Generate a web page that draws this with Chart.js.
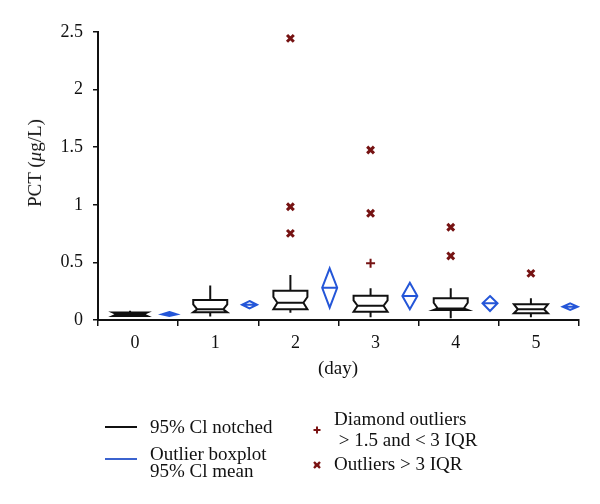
<!DOCTYPE html>
<html>
<head>
<meta charset="utf-8">
<script src="https://cdn.jsdelivr.net/npm/chart.js@4"></script>
<style>
  body { margin: 0; background: #fff; }
  #wrap { position: relative; width: 600px; height: 504px; font-family: "Liberation Serif", "DejaVu Serif", serif; color: #111; }
  #wrap canvas { position: absolute; left: 0; top: 0; }
  .txt { position: absolute; font-size: 19px; white-space: pre; }
  .swatch { position: absolute; height: 2px; width: 32px; }
</style>
</head>
<body>
<div id="wrap">
  <canvas id="pct" width="600" height="504"></canvas>
  <div class="txt" style="left:35px; top:163px; line-height:22px; transform:translate(-50%,-50%) rotate(-90deg);">PCT (<i>μ</i>g/L)</div>
  <div class="txt" style="left:238px; top:357px; width:200px; text-align:center; line-height:22px;">(day)</div>

  <div class="swatch" style="left:105px; top:426px; background:#111;"></div>
  <div class="txt" style="left:150px; top:416px; line-height:21px;">95% Cl notched</div>
  <div class="swatch" style="left:105px; top:458px; background:#3b63cf;"></div>
  <div class="txt" style="left:150px; top:445px; line-height:17px;">Outlier boxplot
95% Cl mean</div>

  <svg style="position:absolute; left:311px; top:424px;" width="12" height="12">
    <path d="M6 2.5 V9.5 M2.5 6 H9.5" stroke="#7a1212" stroke-width="2"/>
  </svg>
  <svg style="position:absolute; left:311px; top:459px;" width="12" height="12">
    <path d="M3 3 L9 9 M9 3 L3 9 M3.5 6 H8.5" stroke="#7a1212" stroke-width="2.4"/>
  </svg>
  <div class="txt" style="left:334px; top:410px; line-height:17px;">Diamond outliers</div>
  <div class="txt" style="left:334px; top:431px; line-height:17px;"> &gt; 1.5 and &lt; 3 IQR</div>
  <div class="txt" style="left:334px; top:455px; line-height:17px;">Outliers &gt; 3 IQR</div>
</div>

<script>
// categories (day) and y ticks
const days = ["0", "1", "2", "3", "4", "5"];
const yTicks = [0, 0.5, 1, 1.5, 2, 2.5];

// notched boxplot, 95% CI of median
const boxQ1   = [0.035, 0.067, 0.093, 0.072, 0.087, 0.058];
const boxMed  = [0.050, 0.093, 0.150, 0.124, 0.100, 0.093];
const boxQ3   = [0.065, 0.174, 0.254, 0.211, 0.188, 0.136];
const notchLo = [0.035, 0.067, 0.093, 0.072, 0.087, 0.058];
const notchHi = [0.065, 0.136, 0.200, 0.170, 0.150, 0.136];
const whiskLo = [0.035, 0.030, 0.063, 0.023, 0.016, 0.023];
const whiskHi = [0.080, 0.300, 0.390, 0.275, 0.275, 0.188];

// 95% CI of mean (diamonds)
const meanVal = [0.050, 0.133, 0.280, 0.208, 0.145, 0.116];
const meanLo  = [0.035, 0.100, 0.107, 0.093, 0.078, 0.087];
const meanHi  = [0.070, 0.165, 0.449, 0.324, 0.208, 0.145];

// outliers
const mildDay = [3];
const mildVal = [0.492];
const extDay = [2, 2, 2, 3, 3, 4, 4, 5];
const extVal = [2.445, 0.983, 0.752, 1.476, 0.926, 0.805, 0.556, 0.405];

const BOX_SHIFT = -0.1;   // box sits left of the category centre
const MEAN_SHIFT = 0.39;  // diamond sits right
const BOX_HALF = 17, NOTCH = 4, DIAM_HALF = 7.5;
const OUT_RED = "#761313";

const boxPlugin = {
  id: "boxes",
  afterDatasetsDraw(chart) {
    const ctx = chart.ctx;
    const xs = chart.scales.xv, ys = chart.scales.y;
    ctx.save();
    ctx.lineWidth = 2;
    ctx.lineJoin = "miter";
    days.forEach((d, i) => {
      // notched box
      const cx = xs.getPixelForValue(i + BOX_SHIFT);
      const l = cx - BOX_HALF, r = cx + BOX_HALF;
      const q1 = ys.getPixelForValue(boxQ1[i]), q3 = ys.getPixelForValue(boxQ3[i]);
      const md = ys.getPixelForValue(boxMed[i]);
      const nl = ys.getPixelForValue(notchLo[i]), nh = ys.getPixelForValue(notchHi[i]);
      ctx.strokeStyle = "#111";
      ctx.beginPath();
      ctx.moveTo(l, q3); ctx.lineTo(r, q3); ctx.lineTo(r, nh);
      ctx.lineTo(r - NOTCH, md); ctx.lineTo(r, nl); ctx.lineTo(r, q1);
      ctx.lineTo(l, q1); ctx.lineTo(l, nl); ctx.lineTo(l + NOTCH, md);
      ctx.lineTo(l, nh); ctx.closePath();
      ctx.moveTo(l + NOTCH, md); ctx.lineTo(r - NOTCH, md);
      ctx.moveTo(cx, q3); ctx.lineTo(cx, ys.getPixelForValue(whiskHi[i]));
      ctx.moveTo(cx, q1); ctx.lineTo(cx, ys.getPixelForValue(whiskLo[i]));
      ctx.stroke();

      // mean diamond
      const mx = xs.getPixelForValue(i + MEAN_SHIFT);
      const my = ys.getPixelForValue(meanVal[i]);
      ctx.strokeStyle = "#2456d8";
      ctx.beginPath();
      ctx.moveTo(mx, ys.getPixelForValue(meanHi[i]));
      ctx.lineTo(mx + DIAM_HALF, my);
      ctx.lineTo(mx, ys.getPixelForValue(meanLo[i]));
      ctx.lineTo(mx - DIAM_HALF, my);
      ctx.closePath();
      ctx.moveTo(mx - DIAM_HALF, my); ctx.lineTo(mx + DIAM_HALF, my);
      ctx.stroke();
    });
    ctx.restore();
  }
};

new Chart(document.getElementById("pct"), {
  type: "scatter",
  data: {
    datasets: [{
      label: "Diamond outliers > 1.5 and < 3 IQR",
      data: mildDay.map((d, k) => ({x: d + BOX_SHIFT, y: mildVal[k]})),
      xAxisID: "xv",
      pointStyle: "cross",
      pointRadius: 4.5,
      borderWidth: 2,
      borderColor: OUT_RED
    }, {
      label: "Outliers > 3 IQR",
      data: extDay.map((d, k) => ({x: d + BOX_SHIFT, y: extVal[k]})),
      xAxisID: "xv",
      pointStyle: "crossRot",
      pointRadius: 4.8,
      borderWidth: 3,
      borderColor: OUT_RED
    }]
  },
  plugins: [boxPlugin],
  options: {
    responsive: false,
    animation: false,
    layout: {padding: {top: 32, right: 21, left: 0, bottom: 0}},
    plugins: {legend: {display: false}, tooltip: {enabled: false}},
    scales: {
      x: {
        type: "category",
        labels: days,
        offset: true,
        position: "bottom",
        grid: {offset: true, drawOnChartArea: false, drawTicks: true, tickLength: 6, color: "#111", lineWidth: 1.5},
        border: {display: true, color: "#111", width: 2},
        ticks: {color: "#111", padding: 6, labelOffset: -3, font: {family: "Liberation Serif", size: 18}},
        afterFit: s => { s.height = 184; }
      },
      xv: {type: "linear", display: false, min: -0.5, max: 5.5},
      y: {
        type: "linear",
        min: yTicks[0],
        max: yTicks[yTicks.length - 1],
        afterBuildTicks: s => { s.ticks = yTicks.map(v => ({value: v})); },
        grid: {drawOnChartArea: false, drawTicks: true, tickLength: 5, color: "#111", lineWidth: 1.5},
        border: {display: true, color: "#111", width: 2},
        ticks: {color: "#111", padding: 10, callback: v => String(v), font: {family: "Liberation Serif", size: 18}},
        afterFit: s => { s.width = 98; }
      }
    }
  }
});
</script>
</body>
</html>
